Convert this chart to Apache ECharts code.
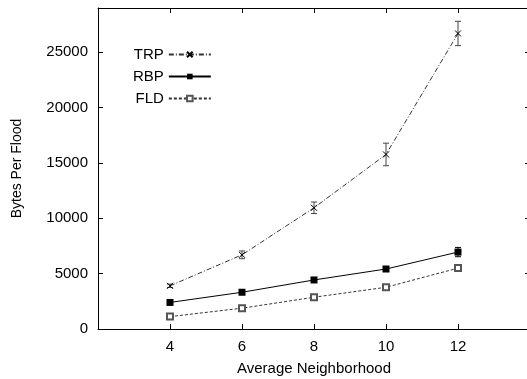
<!DOCTYPE html>
<html>
<head>
<meta charset="utf-8">
<script src="https://cdn.jsdelivr.net/npm/echarts@6/dist/echarts.min.js"></script>
<style>
  html, body { margin: 0; padding: 0; background: #fff; }
  #chart { width: 527px; height: 379px; }
</style>
</head>
<body>
<div id="chart"></div>
<script>
const neighborhoods = [4, 6, 8, 10, 12];

const trp = [3900, 6700, 10950, 15770, 26700];
const trpErr = [150, 350, 520, 1020, 1100];

const rbp = [2400, 3320, 4430, 5420, 6950];
const rbpErr = [80, 100, 120, 150, 420];

const fld = [1120, 1880, 2870, 3770, 5500];
const fldErr = [60, 80, 100, 120, 150];

const crossPath = "path://M0,0L10,10M10,0L0,10";
const font = "Liberation Sans, Arial, sans-serif";

function points(values) {
  return values.map((v, i) => [neighborhoods[i], v]);
}

function errorData(values, errs) {
  return values.map((v, i) => [neighborhoods[i], v - errs[i], v + errs[i]]);
}

function errorSeries(name, values, errs, color) {
  return {
    name: name + " err",
    type: "custom",
    silent: true,
    z: 1,
    data: errorData(values, errs),
    renderItem: (params, api) => {
      const x = api.value(0);
      const low = api.coord([x, api.value(1)]);
      const high = api.coord([x, api.value(2)]);
      const cap = 3;
      const style = { stroke: color, lineWidth: 1 };
      return {
        type: "group",
        children: [
          { type: "line", shape: { x1: low[0], y1: low[1], x2: high[0], y2: high[1] }, style },
          { type: "line", shape: { x1: low[0] - cap, y1: low[1], x2: low[0] + cap, y2: low[1] }, style },
          { type: "line", shape: { x1: high[0] - cap, y1: high[1], x2: high[0] + cap, y2: high[1] }, style },
        ],
      };
    },
  };
}

const axisCommon = {
  axisLine: { show: true, onZero: false, lineStyle: { color: "#000", width: 1 } },
  axisTick: { show: true, inside: true, length: 5, lineStyle: { color: "#000" } },
  splitLine: { show: false },
};

const chart = echarts.init(document.getElementById("chart"));
chart.setOption({
  animation: false,
  textStyle: { fontFamily: font, color: "#000" },
  grid: { left: 98, right: -3, top: 8, bottom: 50, outerBoundsMode: "none", containLabel: false },
  legend: {
    orient: "vertical",
    left: 128,
    top: 42,
    align: "right",
    itemWidth: 42,
    itemHeight: 7,
    itemGap: 7,
    data: ["TRP", "RBP", "FLD"],
    textStyle: { fontFamily: font, fontSize: 15, color: "#000", width: 37, align: "right" },
  },
  xAxis: [
    {
      ...axisCommon,
      type: "value",
      min: 2,
      max: 14,
      interval: 2,
      name: "Average Neighborhood",
      nameLocation: "middle",
      nameGap: 32,
      nameTextStyle: { fontFamily: font, fontSize: 15, color: "#000" },
      axisLabel: {
        fontFamily: font,
        fontSize: 15,
        color: "#000",
        margin: 10,
        formatter: (v) => (v === 2 || v === 14 ? "" : String(v)),
      },
    },
    {
      ...axisCommon,
      type: "value",
      position: "top",
      min: 2,
      max: 14,
      interval: 2,
      axisLabel: { show: false },
    },
  ],
  yAxis: [
    {
      ...axisCommon,
      type: "value",
      min: 0,
      max: 29000,
      interval: 5000,
      name: "Bytes Per Flood",
      nameLocation: "middle",
      nameGap: 74,
      nameTextStyle: { fontFamily: font, fontSize: 14, color: "#000" },
      axisLabel: {
        fontFamily: font,
        fontSize: 15,
        color: "#000",
        margin: 10,
        showMaxLabel: false,
        formatter: (v) => String(v),
      },
    },
    {
      ...axisCommon,
      type: "value",
      position: "right",
      min: 0,
      max: 29000,
      interval: 5000,
      axisLabel: { show: false },
    },
  ],
  series: [
    errorSeries("TRP", trp, trpErr, "#444"),
    errorSeries("RBP", rbp, rbpErr, "#000"),
    errorSeries("FLD", fld, fldErr, "#555"),
    {
      name: "TRP",
      type: "line",
      data: points(trp),
      symbol: crossPath,
      symbolSize: 6,
      z: 3,
      lineStyle: { color: "#333", width: 1, type: [5, 2, 1, 2] },
      itemStyle: { color: "#000", borderColor: "#000", borderWidth: 1 },
    },
    {
      name: "RBP",
      type: "line",
      data: points(rbp),
      symbol: "rect",
      symbolSize: 7,
      z: 3,
      lineStyle: { color: "#000", width: 1, type: "solid" },
      itemStyle: { color: "#000" },
    },
    {
      name: "FLD",
      type: "line",
      data: points(fld),
      symbol: "emptyRect",
      symbolSize: 6,
      z: 3,
      lineStyle: { color: "#333", width: 1, type: [3, 2] },
      itemStyle: { color: "#555", borderColor: "#555", borderWidth: 0.8 },
    },
  ],
});
</script>
</body>
</html>
